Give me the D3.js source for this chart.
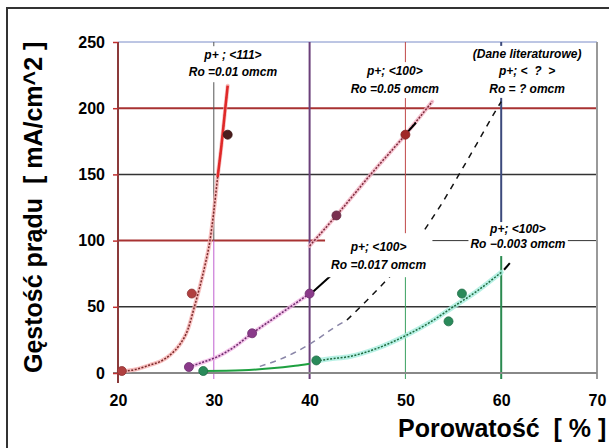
<!DOCTYPE html>
<html>
<head>
<meta charset="utf-8">
<script src="https://cdn.jsdelivr.net/npm/d3@7"></script>
<style>
  html, body { margin: 0; padding: 0; background: #fff; }
  svg { display: block; font-family: "Liberation Sans", Arial, sans-serif; }
  .pre { white-space: pre; }
</style>
</head>
<body>
<svg id="chart" width="609" height="448"></svg>
<script>
// Axis ticks
const xTicks = [20, 30, 40, 50, 60, 70];
const yTicks = [0, 50, 100, 150, 200, 250];

// p+ <111>, Ro = 0.01 omcm
const redPoints = [[20.4, 1.5], [27.7, 60], [31.45, 180]];
const redCurve = [[20.3, 1], [22, 3], [23.3, 6], [24.5, 9], [25.5, 14], [26.5, 22], [27.3, 33], [27.9, 48],
  [28.5, 64], [29.1, 82], [29.6, 100], [30.0, 122], [30.4, 148], [30.8, 172], [31.2, 200], [31.45, 217]];

// p+ <100>, Ro = 0.017 omcm
const purplePoints = [[27.4, 4.5], [34, 30], [40, 60]];
const purpleCurve = [[27.4, 4.5], [29, 8.5], [30.3, 12], [32, 19], [34, 30], [36, 40], [37.6, 48], [39, 55], [40, 60]];

// p+ <100>, Ro = 0.05 omcm
const maroonPoints = [[42.8, 119], [50, 180]];
const maroonCurve = [[40, 96], [42.8, 119], [46.5, 151], [50, 180], [52.8, 205]];

// p+ <100>, Ro = 0.003 omcm
const greenPoints = [[28.9, 1.5], [40.7, 9.5], [54.5, 39], [55.9, 60]];
const greenBase = [[28.9, 1.5], [33, 2], [36, 3.5], [38.5, 5.5], [40, 7]];
const greenCurve = [[40.7, 9], [42, 10.5], [44.2, 12.5], [47, 18.5], [50.1, 28.5], [52.5, 38], [55, 50], [57.5, 62], [60, 76]];

// literature data (dashed)
const litLow = [[34.8, 5], [36.8, 10], [38.6, 16], [40.5, 24], [42.5, 34], [43.9, 40]];
const litHigh = [[43.9, 40], [46, 55], [48.4, 73], [50, 86], [51.9, 107], [53.8, 128], [55.6, 150], [57.6, 175], [59.5, 199], [60, 205]];

// leader lines from points to their captions
const leaders = [
  [[40.3, 61], [42.9, 78]],
  [[50.1, 181], [51.1, 189]],
  [[60.3, 78], [60.9, 83]]
];

// captions: anchor in data units, line spacing and box padding in px
const captions = [
  { lines: ["p+ ; <111>", "Ro =0.01 omcm"], at: [32.0, 237], lh: 17, pad: [6, 2, 3] },
  { lines: ["p+; <100>", "Ro =0.05 omcm"], at: [48.9, 225], lh: 18, pad: [3, 2, 2] },
  { lines: ["(Dane literaturowe)", "p+; <  ?  >", "Ro = ? omcm"], at: [62.7, 238], lh: 17.5, pad: [4, 1, 2] },
  { lines: ["p+; <100>", "Ro =0.017 omcm"], at: [47.2, 92], lh: 18, pad: [6, 7, 5] },
  { lines: ["p+; <100>", "Ro \u22120.003 omcm"], at: [61.75, 105.7], lh: 15, pad: [2, 0, 5] }
];

const svg = d3.select("#chart");
const x = d3.scaleLinear().domain([20, 70]).range([118, 597]);
const y = d3.scaleLinear().domain([0, 250]).range([373, 42]);
const line = d3.line().x(d => x(d[0])).y(d => y(d[1])).curve(d3.curveMonotoneX);

// outer frame
svg.append("rect").attr("x", 7).attr("y", 8).attr("width", 700).attr("height", 500)
  .attr("fill", "#fff").attr("stroke", "#333").attr("stroke-width", 2);

const grid = svg.append("g");
function hLine(v, x0, x1, color, w) {
  grid.append("line").attr("x1", x(x0)).attr("x2", x(x1)).attr("y1", y(v)).attr("y2", y(v))
    .attr("stroke", color).attr("stroke-width", w);
}
function vLine(v, y0, y1, color, w, ext) {
  grid.append("line").attr("x1", x(v)).attr("x2", x(v)).attr("y1", y(y0) + (ext || 0)).attr("y2", y(y1))
    .attr("stroke", color).attr("stroke-width", w);
}
// horizontal grid
hLine(250, 20, 70, "#7b8cc8", 1);
hLine(200, 20, 70, "#a83232", 2);
hLine(150, 20, 70, "#333", 1.5);
hLine(100, 20, 50, "#a83232", 2);
hLine(100, 50, 70, "#333", 1);
hLine(50, 20, 70, "#333", 1.5);
// vertical grid
vLine(30, 100, 250, "#555", 1);
vLine(30, 0, 100, "#c060d0", 1, 6);
vLine(50, 100, 250, "#c04848", 1);
vLine(50, 0, 100, "#3aa060", 1, 6);
vLine(60, 100, 250, "#3c4a7c", 2);
vLine(60, 0, 100, "#2a8a50", 2, 6);
vLine(40, 0, 250, "#6b3f7a", 2, 6);
vLine(70, 0, 250, "#999", 2, 6);
// baseline and left axis line
hLine(0, 20, 70, "#888", 2);
grid.append("line").attr("x1", x(20) - 5).attr("x2", x(20)).attr("y1", y(0)).attr("y2", y(0))
  .attr("stroke", "#888").attr("stroke-width", 2);
vLine(20, 0, 250, "#8b3a3a", 2, 10);

// y axis ticks and labels
const yAxis = svg.append("g").attr("transform", `translate(${x(20)},0)`)
  .call(d3.axisLeft(y).tickValues(yTicks).tickSize(5).tickPadding(8));
yAxis.select(".domain").remove();
yAxis.selectAll(".tick line").attr("stroke", "#c03030").attr("stroke-width", 1.5);
yAxis.selectAll("text").attr("font-size", 16).attr("font-weight", "bold").attr("fill", "#000")
  .attr("font-family", "Liberation Sans, Arial, sans-serif");

// x axis labels
const xAxis = svg.append("g").attr("transform", `translate(0,${y(0)})`)
  .call(d3.axisBottom(x).tickValues(xTicks).tickSize(0).tickPadding(22));
xAxis.select(".domain").remove();
xAxis.selectAll("text").attr("font-size", 16).attr("font-weight", "bold").attr("fill", "#000")
  .attr("font-family", "Liberation Sans, Arial, sans-serif");

// caption boxes (white) drawn over the grid
const capG = captions.map(c => {
  const g = svg.append("g");
  const box = g.append("rect").attr("fill", "#fff");
  const t = g.append("text").attr("class", "pre").attr("text-anchor", "middle")
    .attr("font-size", 12).attr("font-weight", "bold").attr("font-style", "italic").attr("fill", "#000");
  c.lines.forEach((s, i) => {
    t.append("tspan").attr("x", x(c.at[0])).attr("y", y(c.at[1]) + i * c.lh).text(s);
  });
  const b = t.node().getBBox();
  box.attr("x", b.x - c.pad[0]).attr("y", b.y - c.pad[1])
    .attr("width", b.width + 2 * c.pad[0]).attr("height", b.height + c.pad[1] + c.pad[2]);
  return g;
});

const marks = svg.append("g");
function glowPath(data, glow, gw, core, cw, dash) {
  marks.append("path").datum(data).attr("d", line).attr("fill", "none")
    .attr("stroke", glow).attr("stroke-width", gw).attr("stroke-linecap", "round").attr("opacity", 0.8);
  marks.append("path").datum(data).attr("d", line).attr("fill", "none")
    .attr("stroke", core).attr("stroke-width", cw).attr("stroke-dasharray", dash);
}

// literature dashed curve
marks.append("path").datum(litLow).attr("d", line).attr("fill", "none")
  .attr("stroke", "#8a86a8").attr("stroke-width", 1.5).attr("stroke-dasharray", "6,5");
marks.append("path").datum(litHigh).attr("d", line).attr("fill", "none")
  .attr("stroke", "#111").attr("stroke-width", 1.5).attr("stroke-dasharray", "6,6");

// green curve
marks.append("path").datum(greenBase).attr("d", line).attr("fill", "none")
  .attr("stroke", "#1ea040").attr("stroke-width", 2);
glowPath(greenCurve, "#a6eedf", 5, "#1e6a3e", 1.5, "2,1.5");

// purple and maroon curves
glowPath(purpleCurve, "#f0b4e4", 4, "#6a2a6a", 1.5, "2,1.5");
glowPath(maroonCurve, "#f4b4c4", 4, "#7a2a3a", 1.5, "2,1.5");

// red curve: pale glow with dotted core, bright upper part
glowPath(redCurve, "#f6b0b0", 4, "#7a2a2a", 1.5, "2,1.5");
marks.append("path").datum(redCurve.filter(d => d[1] >= 148)).attr("d", line).attr("fill", "none")
  .attr("stroke", "#e02828").attr("stroke-width", 2.5);

// leader lines
leaders.forEach(l => {
  marks.append("line").attr("x1", x(l[0][0])).attr("y1", y(l[0][1]))
    .attr("x2", x(l[1][0])).attr("y2", y(l[1][1])).attr("stroke", "#000").attr("stroke-width", 2);
});

// points
function dots(data, fill) {
  marks.selectAll(null).data(data).enter().append("circle")
    .attr("cx", d => x(d[0])).attr("cy", d => y(d[1])).attr("r", 4.5)
    .attr("fill", fill).attr("stroke", d3.color(fill).darker(0.6)).attr("stroke-width", 0.8);
}
dots(redPoints.slice(0, 2), "#b04040");
dots(redPoints.slice(2), "#4a1c1c");
dots(purplePoints, "#8a3a8a");
dots(maroonPoints.slice(0, 1), "#7a3050");
dots(maroonPoints.slice(1), "#a02828");
dots(greenPoints, "#2a8a5a");

// caption text on top
capG.forEach(g => g.raise());

// axis titles
svg.append("text").attr("class", "pre").attr("x", 398).attr("y", 437)
  .attr("font-size", 25).attr("font-weight", "bold").attr("fill", "#000")
  .text("Porowatość  [ % ]");
svg.append("text").attr("class", "pre").attr("transform", "translate(42,373) rotate(-90)")
  .attr("font-size", 25).attr("font-weight", "bold").attr("fill", "#000")
  .text("Gęstość prądu  [ mA/cm^2 ]");
</script>
</body>
</html>
